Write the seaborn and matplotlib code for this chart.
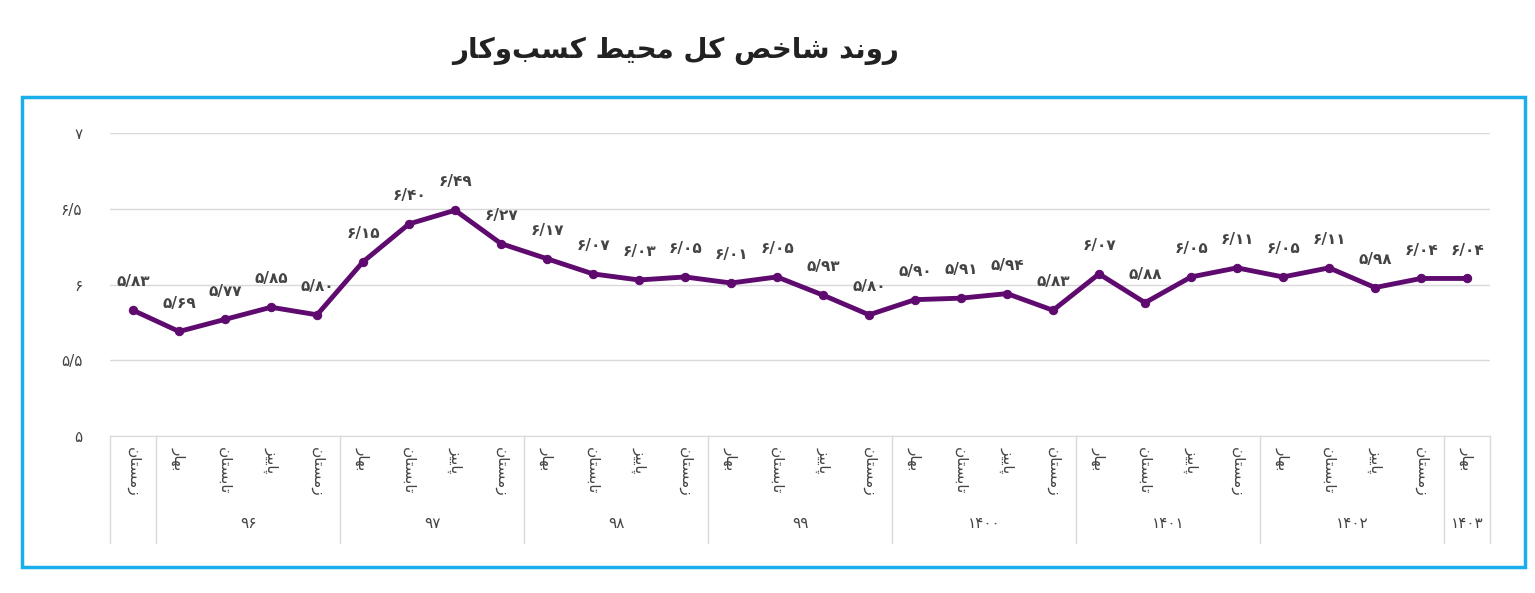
import matplotlib
matplotlib.use("Agg")
import matplotlib.pyplot as plt
import matplotlib.patches as mpatches
import matplotlib.transforms as mtrans
import seaborn as sns
import pandas as pd

title = "روند شاخص کل محیط کسب\u200cوکار"
seasons = ["زمستان"] + ["بهار", "تابستان", "پاییز", "زمستان"] * 7 + ["بهار"]
values = [5.83, 5.69, 5.77, 5.85, 5.80, 6.15, 6.40, 6.49, 6.27, 6.17, 6.07, 6.03, 6.05, 6.01, 6.05,
          5.93, 5.80, 5.90, 5.91, 5.94, 5.83, 6.07, 5.88, 6.05, 6.11, 6.05, 6.11, 5.98, 6.04, 6.04]
years = ["", "۹۶", "۹۷", "۹۸", "۹۹", "۱۴۰۰", "۱۴۰۱", "۱۴۰۲", "۱۴۰۳"]
year_sizes = [1, 4, 4, 4, 4, 4, 4, 4, 1]
yticks = [5, 5.5, 6, 6.5, 7]

FORMS = {
    'ا': ('\uFE8D', '\uFE8E'), 'د': ('\uFEA9', '\uFEAA'), 'ر': ('\uFEAD', '\uFEAE'),
    'ز': ('\uFEAF', '\uFEB0'), 'و': ('\uFEED', '\uFEEE'),
    'ب': ('\uFE8F', '\uFE90', '\uFE91', '\uFE92'), 'پ': ('\uFB56', '\uFB57', '\uFB58', '\uFB59'),
    'ت': ('\uFE95', '\uFE96', '\uFE97', '\uFE98'), 'ح': ('\uFEA1', '\uFEA2', '\uFEA3', '\uFEA4'),
    'خ': ('\uFEA5', '\uFEA6', '\uFEA7', '\uFEA8'), 'س': ('\uFEB1', '\uFEB2', '\uFEB3', '\uFEB4'),
    'ش': ('\uFEB5', '\uFEB6', '\uFEB7', '\uFEB8'), 'ص': ('\uFEB9', '\uFEBA', '\uFEBB', '\uFEBC'),
    'ط': ('\uFEC1', '\uFEC2', '\uFEC3', '\uFEC4'), 'ک': ('\uFB8E', '\uFB8F', '\uFB90', '\uFB91'),
    'ل': ('\uFEDD', '\uFEDE', '\uFEDF', '\uFEE0'), 'م': ('\uFEE1', '\uFEE2', '\uFEE3', '\uFEE4'),
    'ن': ('\uFEE5', '\uFEE6', '\uFEE7', '\uFEE8'), 'ه': ('\uFEE9', '\uFEEA', '\uFEEB', '\uFEEC'),
    'ی': ('\uFBFC', '\uFBFD', '\uFBFE', '\uFBFF'),
}

def shape(s):
    out = []
    for i, c in enumerate(s):
        if c not in FORMS:
            if c != '\u200c':
                out.append(c)
            continue
        prev = s[i - 1] if i > 0 else ''
        nxt = s[i + 1] if i + 1 < len(s) else ''
        jp = prev in FORMS and len(FORMS[prev]) == 4
        jn = len(FORMS[c]) == 4 and nxt in FORMS
        f = FORMS[c]
        if jp and jn:
            out.append(f[3])
        elif jp:
            out.append(f[1])
        elif jn:
            out.append(f[2])
        else:
            out.append(f[0])
    return ''.join(reversed(out))

PD = str.maketrans("0123456789.", "۰۱۲۳۴۵۶۷۸۹/")
def fa(v, fmt):
    return format(v, fmt).translate(PD)

plt.rcParams["font.family"] = "DejaVu Sans"
fig = plt.figure(figsize=(15.35, 5.93), dpi=100)
ax = fig.add_axes([0.0717, 0.2647, 0.899, 0.511])
df = pd.DataFrame({"x": range(len(values)), "v": values})
color = "#5e0a6e"
sns.lineplot(data=df, x="x", y="v", ax=ax, color=color, lw=3.5, marker="o", markersize=6,
             markeredgecolor=color)
ax.set_xlim(-0.5, len(values) - 0.5)
ax.set_ylim(5, 7)
ax.set_yticks(yticks)
ax.set_yticklabels([fa(t, "g") for t in yticks], fontsize=11, color="#444")
ax.grid(axis="y", color="#d9d9d9", lw=1)
ax.set_axisbelow(True)
for s in ["top", "right", "left"]:
    ax.spines[s].set_visible(False)
ax.spines["bottom"].set_color("#d9d9d9")
ax.tick_params(axis="y", length=0, pad=20)
ax.set_xlabel(""); ax.set_ylabel("")
ax.set_xticks(range(len(values)))
ax.set_xticklabels([shape(s) for s in seasons], rotation=270, fontsize=11, color="#444")
ax.tick_params(axis="x", length=0, pad=8)

for i, v in enumerate(values):
    ax.annotate(fa(v, ".2f"), (i, v), xytext=(0, 15), textcoords="offset points",
                ha="center", va="bottom", fontsize=11, color="#444", fontweight="bold")

tr = mtrans.blended_transform_factory(ax.transData, ax.transAxes)
pos = -0.5
for lab, n in zip(years, year_sizes):
    ax.plot([pos, pos], [0, -0.353], transform=tr, color="#d9d9d9", lw=1, clip_on=False)
    ax.text(pos + n / 2, -0.287, lab, transform=tr, ha="center", va="center", fontsize=11, color="#444")
    pos += n
ax.plot([pos, pos], [0, -0.353], transform=tr, color="#d9d9d9", lw=1, clip_on=False)

fig.text(0.44, 0.915, shape(title), ha="center", va="center", fontsize=20, fontweight="bold", color="#222")
fig.patches.append(mpatches.Rectangle((22 / 1535, 1 - 567 / 593), 1503 / 1535, 470 / 593,
                                      transform=fig.transFigure, fill=False, ec="#1aaeea", lw=2.5))
fig.savefig("out.png", dpi=100)
